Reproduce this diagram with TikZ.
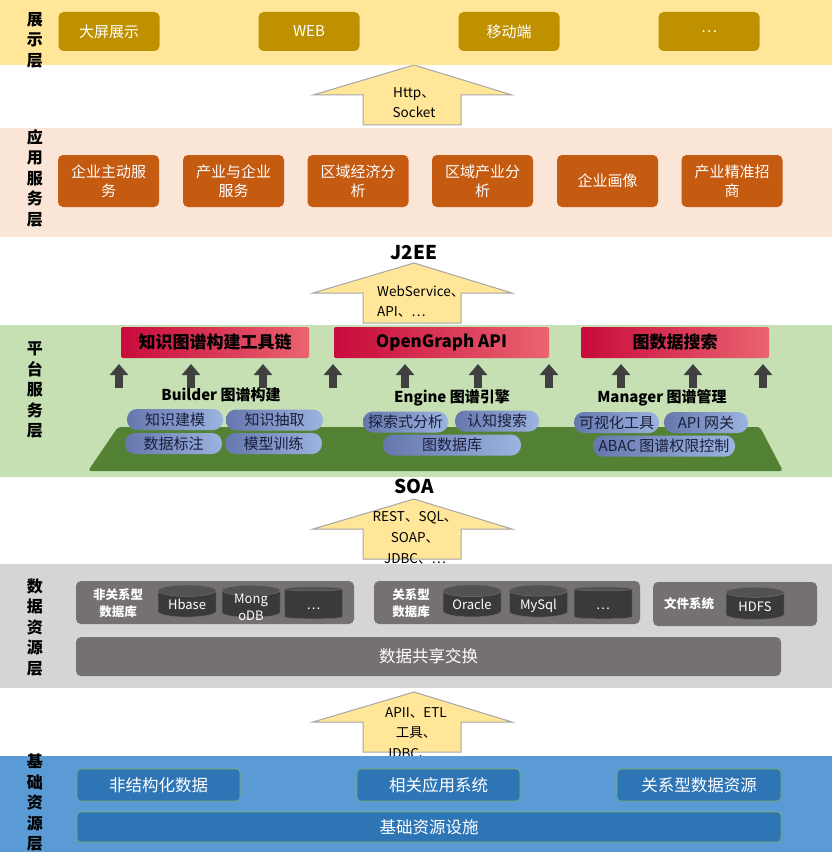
\documentclass[tikz,border=0pt]{standalone}
\usepackage{fontspec}
\setmainfont{Noto Sans CJK SC}
\setsansfont{Noto Sans CJK SC}
\usetikzlibrary{arrows.meta,shapes.geometric,calc}
\definecolor{showbg}{HTML}{FFE699}
\definecolor{showbox}{HTML}{BF9000}
\definecolor{appbg}{HTML}{FBE5D6}
\definecolor{appbox}{HTML}{C55A11}
\definecolor{platbg}{HTML}{C6E0B4}
\definecolor{platbase}{HTML}{548235}
\definecolor{apired}{HTML}{C80A3C}
\definecolor{apipink}{HTML}{EA6470}
\definecolor{pillL}{HTML}{6577AD}
\definecolor{pillR}{HTML}{9CB4E0}
\definecolor{pillink}{HTML}{1A1F3C}
\definecolor{darr}{HTML}{404040}
\definecolor{databg}{HTML}{D6D5D5}
\definecolor{datagrp}{HTML}{767171}
\definecolor{dbcyl}{HTML}{3A3A3A}
\definecolor{basebg}{HTML}{5B9BD5}
\definecolor{basebox}{HTML}{2E75B6}
\definecolor{baseedge}{HTML}{7FAF5C}
\definecolor{arredge}{HTML}{A6A6A6}
\newcommand{\twoline}[2]{\raisebox{-2pt}[0pt][0pt]{\begin{tabular}{@{}c@{}}#1\\#2\end{tabular}}}
\tikzset{
  layer/.style={align=center,inner sep=0pt,font=\bfseries\fontsize{16}{20.5}\selectfont,text=black},
  box/.style={rounded corners=5pt,inner sep=0pt,align=center,text=white,font=\fontsize{15}{19}\selectfont},
  showb/.style={box,fill=showbox,minimum width=101pt,minimum height=39pt},
  appb/.style={box,fill=appbox,minimum width=101pt,minimum height=52pt},
  apib/.style={rounded corners=2pt,inner sep=0pt,left color=apired,right color=apipink,minimum height=31pt,font=\bfseries\fontsize{17}{20}\selectfont,text=black},
  pill/.style={rounded corners=10pt,inner sep=0pt,left color=pillL,right color=pillR,minimum height=21pt,font=\fontsize{15}{18}\selectfont,text=pillink},
  sect/.style={inner sep=0pt,font=\bfseries\fontsize{15}{18}\selectfont,text=black},
  upar/.style={-{Triangle[width=18pt,length=11pt]},line width=8pt,draw=darr},
  fatar/.style={fill=showbg,draw=arredge,line width=1pt},
  arrtxt/.style={align=center,inner sep=0pt,font=\fontsize{13.5}{19.5}\selectfont,text=black},
  proto/.style={inner sep=0pt,font=\bfseries\fontsize{19}{22}\selectfont,text=black},
  grp/.style={rounded corners=5pt,fill=datagrp,inner sep=0pt},
  grplbl/.style={align=center,inner sep=0pt,font=\bfseries\fontsize{12.5}{17}\selectfont,text=white},
  db/.style={cylinder,shape border rotate=90,aspect=0.3,cylinder uses custom fill,
    cylinder body fill=dbcyl,cylinder end fill=dbcyl!88!white,draw=dbcyl!75!white,line width=.5pt,
    inner sep=0pt,text height=11pt,text depth=0pt,
    minimum width=58pt,minimum height=32pt,text=white,font=\fontsize{13}{17}\selectfont},
  datab/.style={box,fill=datagrp,font=\fontsize{16.5}{20}\selectfont},
  baseb/.style={box,rounded corners=4pt,fill=basebox,draw=baseedge,line width=.6pt,font=\fontsize{16.5}{20}\selectfont},
}
\begin{document}
\begin{tikzpicture}[x=1pt,y=-1pt]
  \useasboundingbox (0,0) rectangle (832,864);
  % ── interface arrows (the bands below cover their last line) ──
  \foreach \t in {65,263,499,692}
    \draw[fatar] (414,\t) -- (512,\t+30) -- (461,\t+30) -- (461,\t+60) -- (363,\t+60) -- (363,\t+30) -- (313,\t+30) -- cycle;
  \node[arrtxt] (ifhttp) at (414,102.5) {Http、\\Socket};
  \node[arrtxt,anchor=west,align=left] (ifws) at (377,301.5) {WebService、\\API、…};
  \node[arrtxt,font=\fontsize{13.5}{21}\selectfont] (ifsoa) at (415,538) {REST、SQL、\\SOAP、\\JDBC、…};
  \node[arrtxt,font=\fontsize{13.5}{20.5}\selectfont] (ifetl) at (416,733) {APII、ETL\\工具、\\JDBC、…};
  \node[proto] (j2ee) at (414,253) {J2EE};
  \node[proto] (soa) at (414,486) {SOA};
  % ── display layer ──
  \fill[showbg] (0,0) rectangle (832,65);
  \node[layer] (lshow) at (35,40) {展\\示\\层};
  \node[showb] (screen) at (109,31.5) {大屏展示};
  \node[showb] (web) at (309,31.5) {WEB};
  \node[showb] (mobile) at (509,31.5) {移动端};
  \node[showb] (more) at (709,31.5) {…};
  % ── application layer ──
  \fill[appbg] (0,128) rectangle (832,237);
  \node[layer] (lapp) at (35,178) {应\\用\\服\\务\\层};
  \node[appb] (a1) at (108.5,181) {企业主动服\\务};
  \node[appb] (a2) at (233.5,181) {产业与企业\\服务};
  \node[appb] (a3) at (358,181) {区域经济分\\析};
  \node[appb] (a4) at (482.5,181) {区域产业分\\析};
  \node[appb] (a5) at (607.5,181) {企业画像};
  \node[appb] (a6) at (732,181) {产业精准招\\商};
  % ── platform layer ──
  \fill[platbg] (0,325) rectangle (832,477);
  \node[layer] (lplat) at (35,390) {平\\台\\服\\务\\层};
  \node[apib,minimum width=188pt] (kgtool) at (215,342.5) {知识图谱构建工具链};
  \node[apib,minimum width=215pt] (ogapi) at (441.5,342.5) {OpenGraph API};
  \node[apib,minimum width=188pt] (gsearch) at (675,342.5) {图数据搜索};
  \foreach \x [count=\i] in {119,191,263,333,405,478,549,621,693,763} {
    \coordinate (uf\i) at (\x,388);
    \coordinate (ut\i) at (\x,364);
    \draw[upar] (uf\i) -- (ut\i);
  }
  \fill[platbase,rounded corners=3pt] (88,471) -- (118,427) -- (760,427) -- (783,471) -- cycle;
  \node[sect] (builder) at (221,395) {Builder 图谱构建};
  \node[sect] (engine) at (452,398) {Engine 图谱引擎};
  \node[sect] (manager) at (662,398) {Manager 图谱管理};
  \node[pill,minimum width=96pt] (p1) at (175,419.5) {知识建模};
  \node[pill,minimum width=97pt] (p2) at (274.5,420) {知识抽取};
  \node[pill,minimum width=97pt] (p3) at (173.5,443.5) {数据标注};
  \node[pill,minimum width=97pt] (p4) at (273.5,443.5) {模型训练};
  \node[pill,minimum width=85pt] (p5) at (405.5,422) {探索式分析};
  \node[pill,minimum width=84pt] (p6) at (497,421) {认知搜索};
  \node[pill,minimum width=138pt] (p7) at (452,445) {图数据库};
  \node[pill,minimum width=85pt] (p8) at (616.5,422.5) {可视化工具};
  \node[pill,minimum width=84pt] (p9) at (706,422.5) {API 网关};
  \node[pill,minimum width=142pt] (p10) at (664,446) {ABAC 图谱权限控制};
  % ── data layer ──
  \fill[databg] (0,564) rectangle (832,688);
  \node[layer] (ldata) at (35,627) {数\\据\\资\\源\\层};
  \node[grp,minimum width=278pt,minimum height=43pt] (nosql) at (215,602.5) {};
  \node[grp,minimum width=266pt,minimum height=43pt] (rdb) at (507,602.5) {};
  \node[grp,minimum width=164pt,minimum height=44pt] (fs) at (735,604) {};
  \node[grplbl] (nosqll) at (118,603) {非关系型\\数据库};
  \node[grplbl] (rdbl) at (411,603) {关系型\\数据库};
  \node[grplbl] (fsl) at (689,604) {文件系统};
  \node[db] (hbase) at (187,604) {Hbase};
  \node[db] (mongo) at (251,604) {\twoline{Mong}{oDB}};
  \node[db] (nmore) at (313.5,604) {…};
  \node[db] (oracle) at (472,604) {Oracle};
  \node[db] (mysql) at (538.5,604) {MySql};
  \node[db] (rmore) at (603,604) {…};
  \node[db] (hdfs) at (755,606) {HDFS};
  \node[datab,minimum width=705pt,minimum height=39pt] (share) at (428.5,656.5) {数据共享交换};
  % ── base layer ──
  \fill[basebg] (0,756) rectangle (832,852);
  \node[layer] (lbase) at (35,803) {基\\础\\资\\源\\层};
  \node[baseb,minimum width=163pt,minimum height=32pt] (unstr) at (158.5,785) {非结构化数据};
  \node[baseb,minimum width=163pt,minimum height=32pt] (apps) at (438.5,785) {相关应用系统};
  \node[baseb,minimum width=164pt,minimum height=32pt] (reldata) at (699,785) {关系型数据资源};
  \node[baseb,minimum width=704pt,minimum height=30pt] (infra) at (429,827) {基础资源设施};
\end{tikzpicture}
\end{document}
